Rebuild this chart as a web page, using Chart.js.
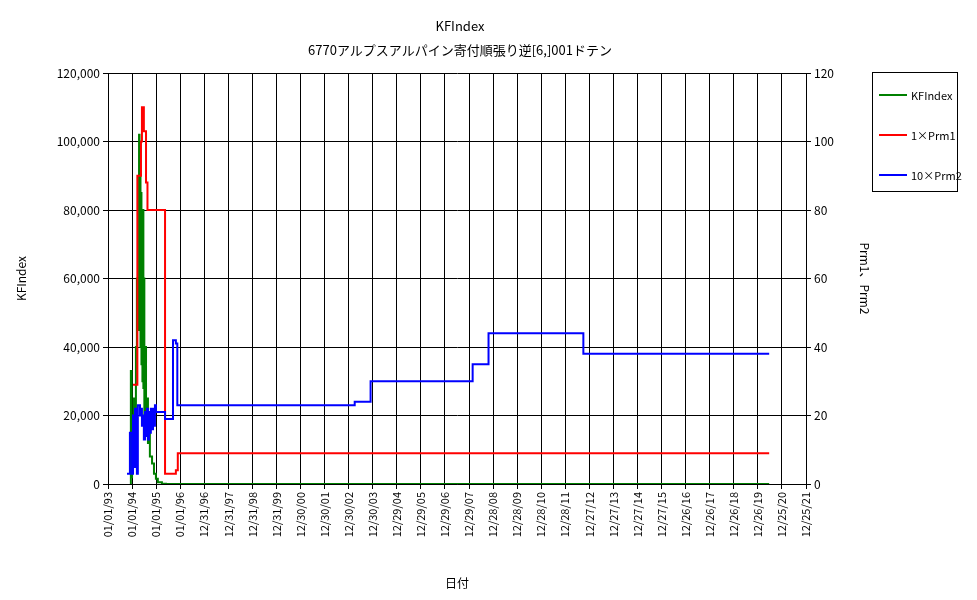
<!DOCTYPE html>
<html>
<head>
<meta charset="utf-8">
<script src="https://cdn.jsdelivr.net/npm/chart.js@4.4.0/dist/chart.umd.min.js"></script>
<style>
  body { margin: 0; background: #fff; font-family: 'Noto Sans CJK JP', sans-serif; }
  #wrap { position: relative; width: 977px; height: 600px; }
  .title { position: absolute; left: 0; width: 920px; text-align: center; font-size: 13px; color: #000; }
  #legend { position: absolute; left: 872px; top: 72px; width: 86px; height: 120px; border: 1px solid #000; box-sizing: border-box; font-size: 11px; }
  #legend div { position: absolute; left: 6px; display: flex; align-items: center; }
  #legend span.sw { display: inline-block; width: 28px; height: 2px; margin-right: 4px; }
</style>
</head>
<body>
<div id="wrap">
  <canvas id="c" width="977" height="600"></canvas>
  <div class="title" style="top:16px">KFIndex</div>
  <div class="title" style="top:40px">6770アルプスアルパイン寄付順張り逆[6,]001ドテン</div>
  <div id="legend"></div>
</div>
<script>
// x values are in years since 01/01/93 (one tick per year)
const tickLabels = ['01/01/93', '01/01/94', '01/01/95', '01/01/96', '12/31/96', '12/31/97', '12/31/98', '12/31/99',
  '12/30/00', '12/30/01', '12/30/02', '12/30/03', '12/29/04', '12/29/05', '12/29/06', '12/29/07', '12/28/08',
  '12/28/09', '12/28/10', '12/28/11', '12/27/12', '12/27/13', '12/27/14', '12/27/15', '12/26/16', '12/26/17',
  '12/26/18', '12/26/19', '12/25/20', '12/25/21']

const kfX = [0.93, 0.95, 0.98, 1.0, 1.04, 1.08, 1.12, 1.16, 1.20, 1.24, 1.29, 1.31, 1.33, 1.35, 1.37, 1.39, 1.41, 1.43,
  1.45, 1.47, 1.49, 1.51, 1.54, 1.58, 1.62, 1.66, 1.70, 1.74, 1.83, 1.91, 1.99, 2.07, 2.24, 2.41, 27.47]
const kfY = [0, 33000, 2000, 20000, 5000, 25000, 8000, 40000, 60000, 45000, 102000, 50000, 90000, 40000, 85000, 35000,
  75000, 30000, 80000, 28000, 60000, 20000, 40000, 15000, 25000, 12000, 15000, 8000, 6000, 3000, 1500, 500, 100, 0, 0]

const prm1X = [1.04, 1.22, 1.37, 1.41, 1.49, 1.58, 1.64, 2.37, 2.82, 2.90, 27.47]
const prm1Y = [29, 90, 100, 110, 103, 88, 80, 3, 4, 9, 9]

const prm2X = [0.79, 0.91, 1.0, 1.04, 1.08, 1.12, 1.20, 1.24, 1.33, 1.37, 1.41, 1.45, 1.49, 1.54, 1.58, 1.62, 1.66,
  1.70, 1.74, 1.78, 1.83, 1.87, 1.91, 1.95, 1.99, 2.37, 2.70, 2.82, 2.88, 10.25, 10.91, 15.15, 15.81, 19.75, 27.47]
const prm2Y = [3, 15, 3, 20, 5, 22, 3, 23, 20, 22, 17, 20, 13, 21, 14, 22, 13, 21, 15, 22, 16, 22, 17, 23, 21, 19, 42,
  41, 23, 24, 30, 35, 44, 38, 38]

const seriesNames = ['KFIndex', '1×Prm1', '10×Prm2']
const seriesColors = ['#008000', '#ff0000', '#0000ff']

const pts = (xs, ys) => xs.map((x, i) => ({ x, y: ys[i] }))
const font = { family: "'Noto Sans CJK JP', sans-serif", size: 12 }
const smallFont = { family: "'Noto Sans CJK JP', sans-serif", size: 11 }

new Chart(document.getElementById('c'), {
  type: 'line',
  data: {
    datasets: [
      { label: seriesNames[0], data: pts(kfX, kfY), borderColor: seriesColors[0], yAxisID: 'y', stepped: 'before', order: 2 },
      { label: seriesNames[1], data: pts(prm1X, prm1Y), borderColor: seriesColors[1], yAxisID: 'y2', stepped: 'before', order: 1 },
      { label: seriesNames[2], data: pts(prm2X, prm2Y), borderColor: seriesColors[2], yAxisID: 'y2', stepped: 'before', order: 0 }
    ]
  },
  options: {
    responsive: false,
    animation: false,
    layout: { padding: { left: 10, right: 101, top: 73, bottom: 5 } },
    elements: { point: { radius: 0 }, line: { borderWidth: 2 } },
    plugins: { legend: { display: false }, tooltip: { enabled: false } },
    scales: {
      x: {
        type: 'linear',
        min: 0,
        max: 29,
        afterFit: s => { s.height = 111 },
        afterBuildTicks: s => { s.ticks = tickLabels.map((_, i) => ({ value: i })) },
        ticks: { color: '#000', font: smallFont, minRotation: 90, maxRotation: 90, autoSkip: false, callback: v => tickLabels[v] },
        grid: { color: '#000', drawTicks: true, tickLength: 5 },
        border: { color: '#000' },
        title: { display: true, text: '日付', color: '#000', font }
      },
      y: {
        position: 'left',
        min: 0,
        max: 120000,
        afterFit: s => { s.width = 98 },
        ticks: { stepSize: 20000, color: '#000', font, callback: v => v.toLocaleString('en-US') },
        grid: { color: '#000', tickLength: 5 },
        border: { color: '#000' },
        title: { display: true, text: 'KFIndex', color: '#000', font }
      },
      y2: {
        position: 'right',
        min: 0,
        max: 120,
        afterFit: s => { s.width = 70 },
        ticks: { stepSize: 20, color: '#000', font },
        grid: { drawOnChartArea: false, color: '#000', tickLength: 5 },
        border: { color: '#000' },
        title: { display: true, text: 'Prm1、Prm2', color: '#000', font }
      }
    }
  }
})

const legend = document.getElementById('legend')
seriesNames.forEach((name, i) => {
  const row = document.createElement('div')
  row.style.top = (14 + i * 40) + 'px'
  row.innerHTML = `<span class="sw" style="background:${seriesColors[i]}"></span>${name}`
  legend.appendChild(row)
})
</script>
</body>
</html>
